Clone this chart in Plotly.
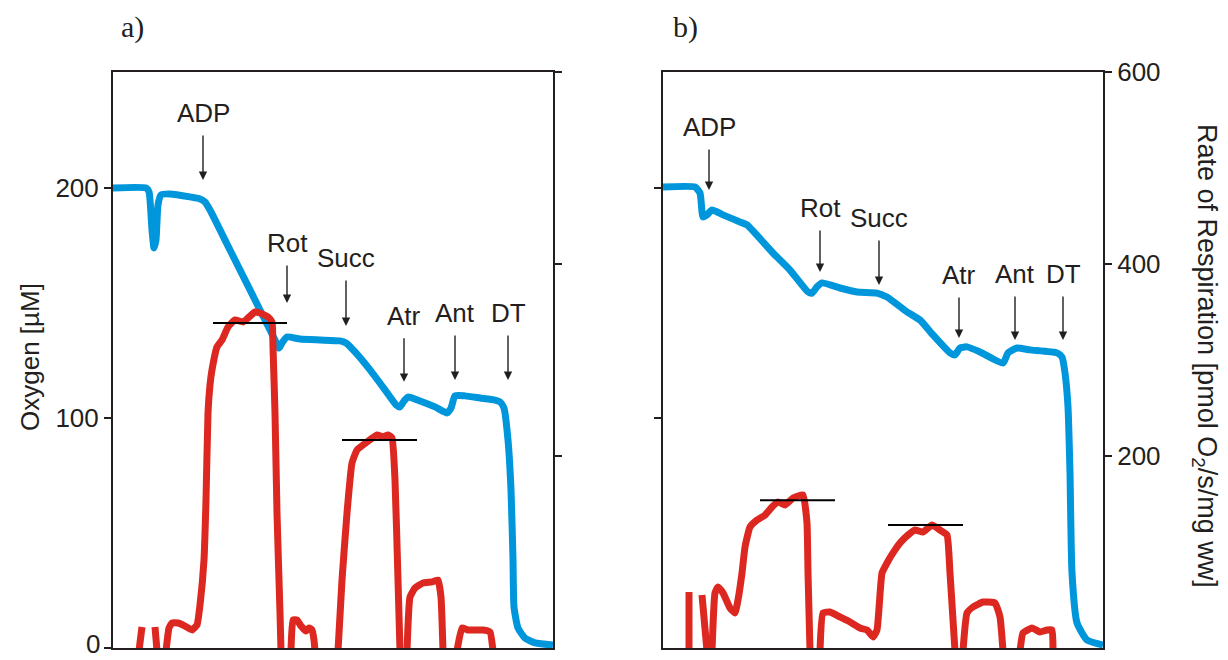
import plotly.graph_objects as go

# ---------------- data (time in min, oxygen in µM, rate in pmol O2/s/mg ww) ----
# Panel a – oxygen concentration
a_o2_t = [0, 3.3, 3.6, 3.9, 4.1, 4.3, 4.5, 4.8, 5.7, 7.7, 8.7, 9.2, 9.7, 11.7, 13.7,
          15.2, 16.2, 16.6, 16.9, 17.4, 18.7, 20.7, 22.7, 23.3, 24.2, 25.7, 27.2, 28.3,
          28.7, 29.1, 29.5, 30.7, 32.2, 33.4, 33.8, 34.2, 35.2, 36.7, 38.2, 38.7, 39.1,
          39.5, 39.8, 40.0, 40.1, 40.5, 41.2, 42.2, 44.0]
a_o2 = [200, 200, 198.3, 181.7, 173.9, 177.4, 192.6, 197.0, 197.4, 196.1, 195.2, 193.9,
        190.4, 173.0, 155.7, 142.6, 133.9, 130.4, 132.6, 135.2, 134.3, 133.9, 133.5,
        132.6, 128.7, 120.9, 112.2, 105.7, 104.8, 107.4, 109.1, 107.4, 104.8, 102.2,
        104.3, 109.6, 109.6, 108.7, 107.8, 107.0, 104.3, 90.4, 68.7, 38.3, 17.8, 8.7,
        4.3, 2.2, 1.3]

# Panel a – respiration rate (None separates segments)
a_rate_t = [2.6, 2.9, None,
            4.2, 4.4, None,
            5.3, 5.6, 5.9, 6.5, 7.2, 7.9, 8.4, 8.7, 9.1, 9.3, 9.5, 9.7, 9.9, 10.4, 10.9,
            11.5, 12.2, 13.0, 13.5, 14.2, 14.7, 15.5, 15.9, 16.0, 16.2, 16.4, 16.7, 16.8, None,
            17.8, 18.0, 18.4, 18.8, 19.3, 19.6, 19.9, 20.1, 20.2, None,
            22.5, 22.9, 23.4, 23.9, 24.4, 25.4, 26.4, 27.0, 27.5, 27.9, 28.2, 28.5, 28.7, None,
            29.4, 29.7, 30.2, 31.0, 31.9, 32.5, 32.8, 33.0, None,
            34.4, 34.9, 35.5, 36.4, 37.0, 37.7, 38.0]
a_rate = [-3, 21.9, None,
          21.9, -3, None,
          -3, 20.8, 26.0, 26.0, 22.9, 18.8, 24.0, 44.8, 91.7, 154.2, 244.8, 274.0, 289.6,
          313.5, 320.8, 334.4, 341.7, 339.6, 343.8, 350.0, 349.0, 344.8, 339.6, 313.5,
          244.8, 140.6, 36.5, -3, None,
          -3, 29.2, 29.2, 22.9, 17.7, 20.8, 18.8, 8.3, -3, None,
          -3, 70.8, 140.6, 192.7, 206.3, 214.6, 221.9, 219.8, 221.9, 218.8, 175.0, 70.8, -3, None,
          -3, 53.1, 62.5, 67.7, 68.8, 70.8, 53.1, -3, None,
          -3, 20.8, 18.8, 18.8, 18.8, 16.7, -3]

# Panel a – plateau markers (rate level, start, end)
a_mark_level = [338.5, 216.7]
a_mark_start = [10.0, 22.9]
a_mark_end = [17.4, 30.4]

# Panel b – oxygen concentration
b_o2_t = [0, 3.2, 3.7, 4.0, 4.4, 4.9, 6.0, 7.7, 8.4, 11.0, 12.7, 14.5, 14.9, 15.4, 15.9,
          17.7, 19.4, 21.4, 22.4, 24.4, 25.7, 27.0, 28.7, 29.2, 29.7, 30.4, 31.7, 34.0,
          34.5, 35.4, 36.7, 39.4, 39.9, 40.2, 40.5, 40.7, 40.9, 41.4, 42.4, 44.0]
b_o2 = [200.4, 200.4, 197.8, 187.4, 188.3, 190.4, 188.3, 185.2, 183.9, 171.7, 164.3,
        154.8, 154.3, 157.0, 158.7, 156.5, 154.8, 154.3, 152.6, 146.1, 142.6, 136.1,
        128.3, 127.4, 130.4, 130.9, 128.7, 123.9, 128.3, 130.4, 129.6, 128.3, 126.5,
        119.6, 104.8, 76.1, 32.6, 10.9, 3.5, 1.3]

# Panel b – respiration rate
b_rate_t = [2.6, 2.6, None,
            3.9, 4.4, None,
            4.9, 5.2, 5.5, 6.0, 6.7, 7.2, 7.5, 7.9, 8.2, 8.7, 9.4, 10.2, 10.9, 11.5, 12.2,
            13.0, 14.0, 14.4, 14.5, 14.7, None,
            15.7, 16.0, 16.7, 17.7, 18.7, 19.7, 20.4, 21.0, 21.4, 21.9, 22.4, 23.0, 23.7,
            24.5, 25.2, 26.0, 26.9, 27.7, 28.4, 28.7, 29.2, None,
            30.0, 30.4, 31.0, 32.0, 33.2, 33.7, 34.0, None,
            35.7, 36.0, 36.9, 37.7, 38.4, 38.9, 39.0]
b_rate = [-3, 58.3, None,
          55.2, -3, None,
          -3, 57.3, 63.5, 57.3, 41.7, 36.5, 50.0, 78.1, 105.2, 126.0, 133.3, 138.5, 146.9,
          152.1, 149.0, 156.3, 159.4, 130.2, 78.1, -3, None,
          -3, 36.5, 37.5, 32.3, 27.1, 20.8, 18.8, 11.5, 18.8, 78.1, 88.5, 99.0, 109.4,
          117.7, 122.9, 120.8, 128.1, 122.9, 117.7, 78.1, -3, None,
          -3, 36.5, 42.7, 47.9, 46.9, 32.3, -3, None,
          -3, 15.6, 20.8, 16.7, 18.8, 18.8, -3]

b_mark_level = [154.0, 128.0]
b_mark_start = [9.7, 22.5]
b_mark_end = [17.2, 30.0]

# Additions (label, time, oxygen at arrow tip, arrow length px)
events = ["ADP", "Rot", "Succ", "Atr", "Ant", "DT"]
a_event_t = [9.0, 17.4, 23.3, 29.1, 34.2, 39.5]
a_event_o2 = [203.5, 150.0, 140.0, 115.7, 116.5, 116.5]
a_event_len = [67, 60, 68, 66, 67, 67]
b_event_t = [4.6, 15.7, 21.6, 29.6, 35.2, 40.0]
b_event_o2 = [199.1, 163.5, 157.8, 134.8, 133.9, 133.9]
b_event_len = [63, 64, 67, 63, 66, 66]

o2_ticks = [0, 100, 200]
o2_ticktext = ["", "100", "200"]   # the "0" label is placed separately (bottom edge)
rate_ticks = [200, 400, 600]

# ---------------- styling ----------------
BLUE = "#0096DB"
RED = "#DC2820"
AXIS = "#231F20"
FONT = "Liberation Sans, Arial, sans-serif"
LW = 7

fig = go.Figure()

def add_panel(xa, ya, ya2, o2_t, o2, r_t, r, m_lvl, m_s, m_e):
    fig.add_trace(go.Scatter(x=o2_t, y=o2, mode="lines", xaxis=xa, yaxis=ya,
                             line=dict(color=BLUE, width=LW, shape="spline", smoothing=0.5),
                             showlegend=False, hoverinfo="skip"))
    fig.add_trace(go.Scatter(x=r_t, y=r, mode="lines", xaxis=xa, yaxis=ya2,
                             line=dict(color=RED, width=LW, shape="spline", smoothing=0.4),
                             connectgaps=False, showlegend=False, hoverinfo="skip"))
    for lvl, s, e in zip(m_lvl, m_s, m_e):
        fig.add_trace(go.Scatter(x=[s, e], y=[lvl, lvl], mode="lines", xaxis=xa,
                                 yaxis=ya2, line=dict(color="black", width=2),
                                 showlegend=False, hoverinfo="skip"))

add_panel("x", "y", "y2", a_o2_t, a_o2, a_rate_t, a_rate, a_mark_level, a_mark_start, a_mark_end)
add_panel("x2", "y3", "y4", b_o2_t, b_o2, b_rate_t, b_rate, b_mark_level, b_mark_start, b_mark_end)

W, H = 1228, 660
ytop, ybot = 72, 648
ydom = [1 - ybot / H, 1 - ytop / H]

common_x = dict(range=[0, 44], showline=True, mirror=True, linecolor=AXIS, linewidth=2,
                showticklabels=False, ticks="", showgrid=False, zeroline=False,
                fixedrange=True, automargin=False)
common_y = dict(showline=True, linecolor=AXIS, linewidth=2, ticks="outside", ticklen=7,
                tickwidth=2, tickcolor=AXIS, showgrid=False, zeroline=False,
                automargin=False, ticklabeloverflow="allow",
                tickfont=dict(family=FONT, size=26, color="#231F20"))

fig.update_layout(
    width=W, height=H, autosize=False,
    margin=dict(l=0, r=0, t=0, b=0, pad=0, autoexpand=False),
    paper_bgcolor="white", plot_bgcolor="white",
    font=dict(family=FONT, size=26, color="#231F20"),
    xaxis=dict(domain=[113 / W, 553 / W], anchor="y", **common_x),
    xaxis2=dict(domain=[663 / W, 1103 / W], anchor="y3", **common_x),
    yaxis=dict(domain=ydom, anchor="x", range=[0, 250.4], tickvals=o2_ticks,
               ticktext=o2_ticktext, showticklabels=True, **common_y),
    yaxis2=dict(anchor="x", overlaying="y", side="right", range=[0, 600],
                tickvals=rate_ticks, showticklabels=False, **common_y),
    yaxis3=dict(domain=ydom, anchor="x2", range=[0, 250.4], tickvals=o2_ticks[1:],
                showticklabels=False, **common_y),
    yaxis4=dict(anchor="x2", overlaying="y3", side="right", range=[0, 600],
                tickvals=rate_ticks, showticklabels=True, **common_y),
)

ann = []
for xa, ya, ts, os_, ls in [("x", "y", a_event_t, a_event_o2, a_event_len),
                            ("x2", "y3", b_event_t, b_event_o2, b_event_len)]:
    for name, t, o, L in zip(events, ts, os_, ls):
        ann.append(dict(x=t, y=o, xref=xa, yref=ya, text=name, showarrow=True,
                        ax=0, ay=-L, arrowhead=2, arrowsize=1.2, arrowwidth=1.4,
                        arrowcolor="#231F20", startstandoff=6,
                        font=dict(family=FONT, size=26, color="#231F20")))

# "0" tick label of the oxygen axis, kept inside the picture
ann.append(dict(x=101 / W, y=0, xref="paper", yref="paper", text=str(o2_ticks[0]),
                showarrow=False, xanchor="right", yanchor="bottom", yshift=0,
                borderpad=0, font=dict(family=FONT, size=26, color="#231F20")))

ann.append(dict(x=30 / W, y=1 - 357 / H, xref="paper", yref="paper", text="Oxygen [µM]",
                textangle=-90, showarrow=False, xanchor="center", yanchor="middle",
                font=dict(family=FONT, size=26, color="#231F20")))
ann.append(dict(x=1205 / W, y=1 - 356 / H, xref="paper", yref="paper",
                text="Rate of Respiration [pmol O<sub>2</sub>/s/mg ww]",
                textangle=90, showarrow=False, xanchor="center", yanchor="middle",
                font=dict(family=FONT, size=27, color="#231F20")))
ann.append(dict(x=132 / W, y=1 - 27 / H, xref="paper", yref="paper", text="a)",
                showarrow=False, xanchor="center", yanchor="middle",
                font=dict(family="Liberation Serif, Times New Roman, serif", size=30,
                          color="#231F20")))
ann.append(dict(x=685 / W, y=1 - 27 / H, xref="paper", yref="paper", text="b)",
                showarrow=False, xanchor="center", yanchor="middle",
                font=dict(family="Liberation Serif, Times New Roman, serif", size=30,
                          color="#231F20")))
fig.update_layout(annotations=ann)

fig.write_html("out.html")
